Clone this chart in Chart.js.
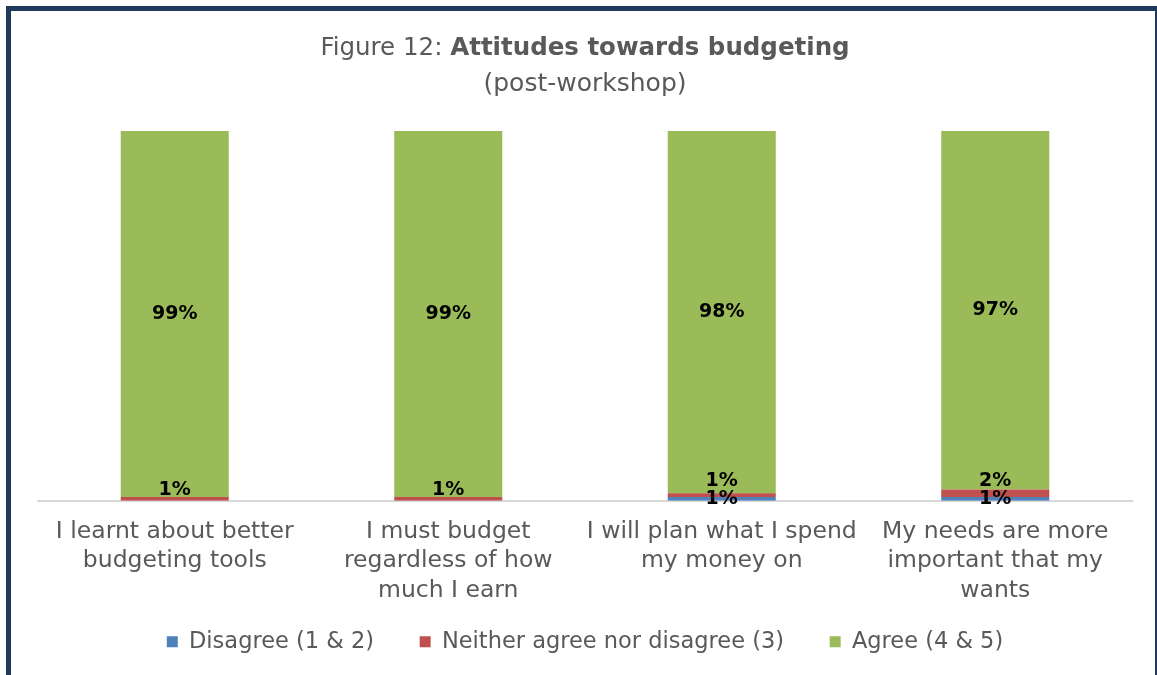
<!DOCTYPE html>
<html>
<head>
<meta charset="utf-8">
<script src="https://cdn.jsdelivr.net/npm/chart.js@4"></script>
<style>
html, body { margin: 0; padding: 0; background: #fff; overflow: hidden; }
#wrap { position: relative; width: 1157px; height: 675px; }
#frame { position: absolute; left: 6px; top: 6px; width: 1144px; height: 700px; border: 5px solid #1f3a5c; pointer-events: none; }
canvas { position: absolute; left: 0; top: 0; }
</style>
</head>
<body>
<div id="wrap">
  <canvas id="chart" width="1157" height="675"></canvas>
  <div id="frame"></div>
</div>
<script>
const categories = [
    ['I learnt about better', 'budgeting tools'],
    ['I must budget', 'regardless of how', 'much I earn'],
    ['I will plan what I spend', 'my money on'],
    ['My needs are more', 'important that my', 'wants']
];
const disagree = [0, 0, 1, 1];
const neither = [1, 1, 1, 2];
const agree = [99, 99, 98, 97];

const FONT = "'DejaVu Sans', sans-serif";
const GREY = '#595959';

// title with a plain lead-in and a bold heading, plus subtitle
const titlePlugin = {
    id: 'mixedTitle',
    afterDraw(chart) {
        const ctx = chart.ctx;
        const cx = 585;
        const lead = 'Figure 12: ';
        const head = 'Attitudes towards budgeting';
        ctx.save();
        ctx.fillStyle = GREY;
        ctx.textBaseline = 'middle';
        ctx.font = '24.5px ' + FONT;
        const w1 = ctx.measureText(lead).width;
        ctx.font = 'bold 24.5px ' + FONT;
        const w2 = ctx.measureText(head).width;
        let x = cx - (w1 + w2) / 2;
        ctx.textAlign = 'left';
        ctx.font = '24.5px ' + FONT;
        ctx.fillText(lead, x, 49);
        ctx.font = 'bold 24.5px ' + FONT;
        ctx.fillText(head, x + w1, 49);
        ctx.textAlign = 'center';
        ctx.font = '25px ' + FONT;
        ctx.fillText('(post-workshop)', cx, 84);
        ctx.restore();
    }
};

// percentage labels on each stacked segment
const valueLabels = {
    id: 'valueLabels',
    afterDatasetsDraw(chart) {
        const ctx = chart.ctx;
        const blue = chart.getDatasetMeta(0).data;
        const red = chart.getDatasetMeta(1).data;
        const green = chart.getDatasetMeta(2).data;
        ctx.save();
        ctx.fillStyle = '#000';
        ctx.font = 'bold 19px ' + FONT;
        ctx.textAlign = 'center';
        ctx.textBaseline = 'middle';
        green.forEach((bar, i) => {
            ctx.fillText(agree[i] + '%', bar.x, (bar.y + bar.base) / 2);
        });
        red.forEach((bar, i) => {
            if (!neither[i]) return;
            let y = bar.y - 7;
            if (disagree[i]) {
                const b = blue[i];
                y = Math.min(y, (b.y + b.base) / 2 - 18);
            }
            ctx.fillText(neither[i] + '%', bar.x, y);
        });
        blue.forEach((bar, i) => {
            if (!disagree[i]) return;
            ctx.fillText(disagree[i] + '%', bar.x, (bar.y + bar.base) / 2);
        });
        ctx.restore();
    }
};

new Chart(document.getElementById('chart'), {
    type: 'bar',
    data: {
        labels: categories,
        datasets: [
            { label: 'Disagree (1 & 2)', data: disagree, backgroundColor: '#4f81bd' },
            { label: 'Neither agree nor disagree (3)', data: neither, backgroundColor: '#c0504d' },
            { label: 'Agree (4 & 5)', data: agree, backgroundColor: '#9bbb59' }
        ]
    },
    options: {
        responsive: false,
        animation: false,
        layout: { padding: { left: 38, right: 25, top: 131, bottom: 12 } },
        datasets: {
            bar: { categoryPercentage: 1, barPercentage: 0.395 }
        },
        scales: {
            x: {
                stacked: true,
                grid: { display: false },
                border: { color: '#d9d9d9', width: 2 },
                ticks: {
                    color: GREY,
                    font: { family: FONT, size: 23.5, lineHeight: 1.26 },
                    maxRotation: 0,
                    padding: 8
                }
            },
            y: {
                stacked: true,
                display: false,
                min: 0,
                max: 100
            }
        },
        plugins: {
            legend: {
                position: 'bottom',
                labels: {
                    color: GREY,
                    font: { family: FONT, size: 22.5 },
                    boxWidth: 11,
                    boxHeight: 11,
                    padding: 17,
                    // wider gaps between entries than the vertical padding allows
                    generateLabels(chart) {
                        const items = Chart.defaults.plugins.legend.labels.generateLabels(chart);
                        items.forEach((it, i) => {
                            if (i < items.length - 1) it.text += '    ';
                        });
                        return items;
                    }
                }
            },
            tooltip: { enabled: false }
        }
    },
    plugins: [titlePlugin, valueLabels]
});
</script>
</body>
</html>
